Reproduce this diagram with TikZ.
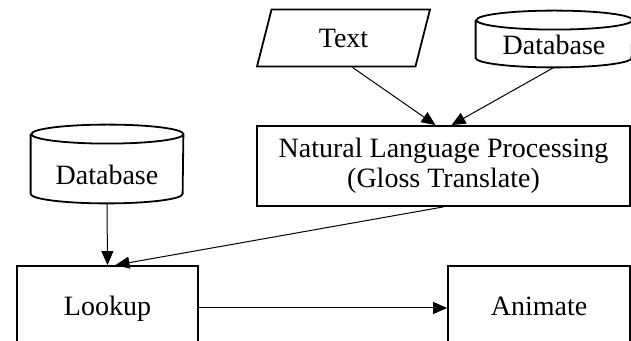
\documentclass[tikz,border=0pt]{standalone}
\usepackage{fontspec}
\setmainfont{Liberation Serif}
\usetikzlibrary{shapes.geometric,arrows.meta}

\begin{document}
\begin{tikzpicture}[x=0.5pt, y=-0.5pt,
    font=\fontsize{14}{15}\selectfont,
    box/.style={draw, line width=0.9pt, rectangle, align=center, inner sep=0pt},
    stepbox/.style={box, text height=10pt, text depth=3pt},
    store/.style={rectangle, inner sep=0pt},
    dbline/.style={line width=0.9pt},
    inbox/.style={draw, line width=0.9pt, trapezium, trapezium left angle=75, trapezium right angle=105,
        trapezium stretches=true, inner sep=0pt},
    flow/.style={-{Triangle[length=7pt,width=6pt]}, line width=0.5pt}]
    \clip (0,0) rectangle (631,341);

    % 输入
    \node[inbox, minimum width=86.5pt, minimum height=28.5pt] (text) at (343.5,38) {Text};
    \node[store, minimum width=78pt, minimum height=28pt] (dbtop) at (554,39)
        {\raisebox{-3pt}[\height][\depth]{Database}};

    % 处理
    \node[box, minimum width=186.5pt, minimum height=40pt] (nlp) at (443.5,166)
        {\raisebox{-1pt}{Natural Language Processing}\\\raisebox{-1pt}{(Gloss Translate)}};
    \node[store, minimum width=76pt, minimum height=39pt] (dbleft) at (107,164)
        {\raisebox{-5.5pt}[\height][\depth]{Database}};

    % 数据库圆柱
    \foreach \db/\rx in {dbtop/39pt,dbleft/38pt}{
        \draw[dbline] ([yshift=-4.75pt]\db.north west) -- ([yshift=4.75pt]\db.south west)
            arc[start angle=180, end angle=360, x radius=\rx, y radius=4.75pt]
            -- ([yshift=-4.75pt]\db.north east)
            arc[start angle=0, end angle=180, x radius=\rx, y radius=4.75pt]
            arc[start angle=180, end angle=360, x radius=\rx, y radius=4.75pt];
    }

    % 输出
    \node[stepbox, minimum width=90.5pt, minimum height=42pt] (lookup) at (107.5,308) {Lookup};
    \node[stepbox, minimum width=91pt, minimum height=42pt] (animate) at (539,308) {Animate};

    % 连线
    \draw[flow] ([xshift=4.5pt]text.south) -- ([xshift=-4pt]nlp.north);
    \draw[flow] (dbtop.south) -- ([xshift=4pt]nlp.north);
    \draw[flow] (dbleft.south) -- (lookup.north);
    \draw[flow] (nlp.south) -- ([xshift=4pt]lookup.north);
    \draw[flow] (lookup.east) -- (animate.west);
\end{tikzpicture}
\end{document}
